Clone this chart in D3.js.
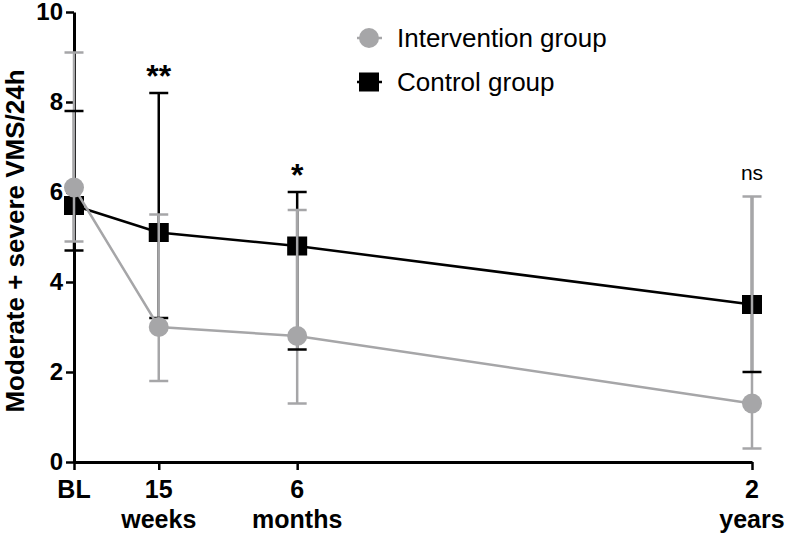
<!DOCTYPE html>
<html>
<head>
<meta charset="utf-8">
<script src="https://cdn.jsdelivr.net/npm/d3@7"></script>
<style>
  body { margin: 0; background: #fff; }
  text { font-family: "Liberation Sans", Arial, Helvetica, sans-serif; }
</style>
</head>
<body>
<div id="chart"></div>
<script>
// chart data
const timeLabels = [["BL"], ["15", "weeks"], ["6", "months"], ["2", "years"]];
const timeX = [0, 3, 7.9, 24];          // position of each visit on the time axis
const interventionMean  = [6.1, 3.0, 2.8, 1.3];
const interventionUpper = [9.1, 5.5, 5.6, 5.9];
const interventionLower = [4.9, 1.8, 1.3, 0.3];
const controlMean  = [5.7, 5.1, 4.8, 3.5];
const controlUpper = [7.8, 8.2, 6.0, 5.9];
const controlLower = [4.7, 3.2, 2.5, 2.0];
const sigLabels = ["", "**", "*", "ns"];
const yTicks = [0, 2, 4, 6, 8, 10];

const width = 786;
const height = 536;
const margin = {left: 74, right: 34, top: 12, bottom: 74};
const gray = "#a6a6a8";
const capHalf = 9.5;

const svg = d3.select("#chart")
  .append("svg")
  .attr("width", width)
  .attr("height", height);

const xScale = d3.scaleLinear()
  .domain([0, 24])
  .range([margin.left, width - margin.right]);

const yScale = d3.scaleLinear()
  .domain([0, 10])
  .range([height - margin.bottom, margin.top]);

const rows = timeX.map((t, i) => ({
  t: t,
  im: interventionMean[i], iu: interventionUpper[i], il: interventionLower[i],
  cm: controlMean[i], cu: controlUpper[i], cl: controlLower[i],
  sig: sigLabels[i], label: timeLabels[i]
}));

// y axis
const yAxis = svg.append("g")
  .attr("transform", `translate(${margin.left},0)`)
  .call(d3.axisLeft(yScale).tickValues(yTicks).tickSize(8).tickSizeOuter(0).tickPadding(3));
yAxis.select(".domain").attr("stroke-width", 3);
yAxis.selectAll(".tick line").attr("stroke-width", 2.5);
yAxis.selectAll(".tick text")
  .attr("font-size", "24px")
  .attr("font-weight", "bold")
  .attr("fill", "#000");

// x axis
const xAxis = svg.append("g")
  .attr("transform", `translate(0,${height - margin.bottom})`)
  .call(d3.axisBottom(xScale).tickValues(timeX).tickSize(8).tickSizeOuter(0).tickFormat(""));
xAxis.select(".domain").attr("stroke-width", 3);
xAxis.selectAll(".tick line").attr("stroke-width", 2.5);

const xLab = svg.append("g")
  .selectAll("text")
  .data(rows)
  .enter()
  .append("text")
    .attr("text-anchor", "middle")
    .attr("font-size", "25px")
    .attr("font-weight", "bold")
    .attr("x", d => xScale(d.t))
    .attr("y", height - margin.bottom + 36);
xLab.selectAll("tspan")
  .data(d => d.label)
  .enter()
  .append("tspan")
    .attr("x", function() { return d3.select(this.parentNode).attr("x"); })
    .attr("dy", (d, i) => i === 0 ? 0 : 30)
    .text(d => d);

// y axis title
svg.append("text")
  .attr("transform", `translate(24,${(yScale(0) + yScale(10)) / 2 + 4}) rotate(-90)`)
  .attr("text-anchor", "middle")
  .attr("font-size", "26px")
  .attr("font-weight", "bold")
  .text("Moderate + severe VMS/24h");

// control group: error bars, line, squares
svg.selectAll(".c-err")
  .data(rows)
  .enter()
  .append("line")
    .attr("class", "c-err")
    .attr("x1", d => xScale(d.t)).attr("x2", d => xScale(d.t))
    .attr("y1", d => yScale(d.cu)).attr("y2", d => yScale(d.cl))
    .attr("stroke", "#000").attr("stroke-width", 2.5);

svg.append("path")
  .datum(rows)
  .attr("fill", "none")
  .attr("stroke", "#000")
  .attr("stroke-width", 2.5)
  .attr("d", d3.line().x(d => xScale(d.t)).y(d => yScale(d.cm)));

svg.selectAll(".c-pt")
  .data(rows)
  .enter()
  .append("rect")
    .attr("class", "c-pt")
    .attr("x", d => xScale(d.t) - 10)
    .attr("y", d => yScale(d.cm) - 9.5)
    .attr("width", 20)
    .attr("height", 19)
    .attr("fill", "#000");

// intervention group error bars
svg.selectAll(".i-err")
  .data(rows)
  .enter()
  .append("line")
    .attr("class", "i-err")
    .attr("x1", d => xScale(d.t)).attr("x2", d => xScale(d.t))
    .attr("y1", d => yScale(d.iu)).attr("y2", d => yScale(d.il))
    .attr("stroke", gray).attr("stroke-width", 2.5);

["iu", "il"].forEach(k => {
  svg.selectAll(".cap-" + k)
    .data(rows)
    .enter()
    .append("line")
      .attr("x1", d => xScale(d.t) - capHalf).attr("x2", d => xScale(d.t) + capHalf)
      .attr("y1", d => yScale(d[k])).attr("y2", d => yScale(d[k]))
      .attr("stroke", gray).attr("stroke-width", 2.5);
});

// control caps on top
["cu", "cl"].forEach(k => {
  svg.selectAll(".cap-" + k)
    .data(rows.filter(d => d[k] !== d.iu))
    .enter()
    .append("line")
      .attr("x1", d => xScale(d.t) - capHalf).attr("x2", d => xScale(d.t) + capHalf)
      .attr("y1", d => yScale(d[k])).attr("y2", d => yScale(d[k]))
      .attr("stroke", "#000").attr("stroke-width", 2.5);
});

// intervention line and circles
svg.append("path")
  .datum(rows)
  .attr("fill", "none")
  .attr("stroke", gray)
  .attr("stroke-width", 2.5)
  .attr("d", d3.line().x(d => xScale(d.t)).y(d => yScale(d.im)));

svg.selectAll(".i-pt")
  .data(rows)
  .enter()
  .append("circle")
    .attr("class", "i-pt")
    .attr("cx", d => xScale(d.t))
    .attr("cy", d => yScale(d.im))
    .attr("r", 10)
    .attr("fill", gray);

// significance marks above the highest bar
svg.selectAll(".sig")
  .data(rows.filter(d => d.sig !== ""))
  .enter()
  .append("text")
    .attr("class", "sig")
    .attr("text-anchor", "middle")
    .attr("x", d => xScale(d.t))
    .attr("y", d => yScale(Math.max(d.iu, d.cu)) - (d.sig === "ns" ? 17 : 6))
    .attr("font-size", d => d.sig === "ns" ? "21px" : "32px")
    .attr("font-weight", d => d.sig === "ns" ? "normal" : "bold")
    .text(d => d.sig);

// legend
const legend = svg.append("g").attr("transform", "translate(369,0)");
legend.append("line")
  .attr("x1", -12).attr("x2", 13).attr("y1", 38).attr("y2", 38)
  .attr("stroke", gray).attr("stroke-width", 2.5);
legend.append("circle")
  .attr("cx", 0).attr("cy", 38).attr("r", 10).attr("fill", gray);
legend.append("text")
  .attr("x", 28).attr("y", 47)
  .attr("font-size", "26px")
  .text("Intervention group");
legend.append("line")
  .attr("x1", -12).attr("x2", 13).attr("y1", 82).attr("y2", 82)
  .attr("stroke", "#000").attr("stroke-width", 2.5);
legend.append("rect")
  .attr("x", -10).attr("y", 72.5).attr("width", 20).attr("height", 19).attr("fill", "#000");
legend.append("text")
  .attr("x", 28).attr("y", 91)
  .attr("font-size", "26px")
  .text("Control group");
</script>
</body>
</html>
